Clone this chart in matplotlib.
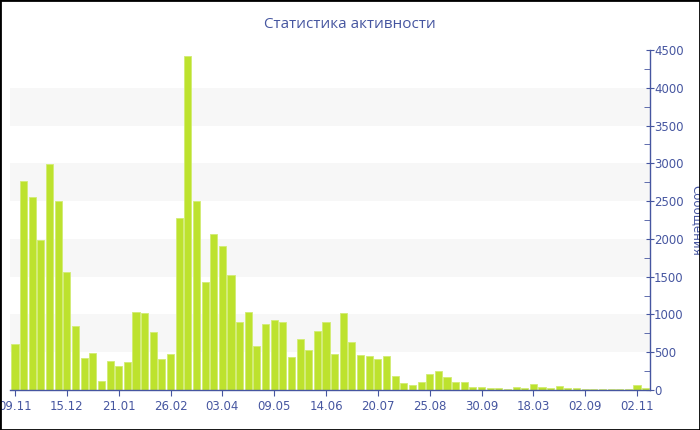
import matplotlib.pyplot as plt
import numpy as np
from matplotlib.patches import Rectangle
from matplotlib.ticker import MultipleLocator

# Сообщения по неделям
soobscheniya = [
    610, 2760, 2555, 1980, 2990, 2500, 1560, 850, 430, 485,
    125, 380, 320, 375, 1035, 1020, 765, 410, 480, 2270,
    4420, 2495, 1435, 2065, 1900, 1520, 895, 1035, 580, 870,
    925, 905, 435, 670, 530, 775, 900, 480, 1015, 635,
    460, 455, 410, 455, 190, 90, 70, 105, 210, 250,
    175, 110, 105, 38, 40, 26, 26, 18, 35, 31,
    84, 40, 26, 53, 26, 22, 13, 13, 13, 18,
    13, 18, 66, 22,
]
podpisi_pos = [0, 6, 12, 18, 24, 30, 36, 42, 48, 54, 60, 66, 72]
podpisi = ["09.11", "15.12", "21.01", "26.02", "03.04", "09.05", "14.06",
           "20.07", "25.08", "30.09", "18.03", "02.09", "02.11"]

SINIY = "#4656a0"
ZELENY = "#bde22e"


def main() -> None:
    fig = plt.figure(figsize=(7, 4.3), dpi=100)
    ax = fig.add_axes([10 / 700, 1 - 390 / 430, 640 / 700, 340 / 430])

    x = np.arange(len(soobscheniya))
    ax.bar(x, soobscheniya, width=0.82, color=ZELENY, edgecolor="#d2ec74",
           linewidth=0.6, zorder=2)

    # полосы фона
    for niz in range(500, 4500, 1000):
        ax.axhspan(niz, niz + 500, color="#f7f7f7", zorder=0, lw=0)

    ax.set_xlim(-0.58, 73.5)
    ax.set_ylim(0, 4500)

    ax.yaxis.tick_right()
    ax.yaxis.set_label_position("right")
    ax.yaxis.set_major_locator(MultipleLocator(500))
    ax.yaxis.set_minor_locator(MultipleLocator(250))
    ax.set_xticks(podpisi_pos)
    ax.set_xticklabels(podpisi)

    ax.tick_params(axis="y", which="major", direction="inout", length=6,
                   color=SINIY, labelcolor=SINIY, labelsize=8.5, pad=0)
    ax.tick_params(axis="y", which="minor", direction="in", length=4, color=SINIY)
    ax.tick_params(axis="x", direction="out", length=4, color=SINIY,
                   labelcolor=SINIY, labelsize=8.5, pad=3)

    for storona in ("top", "left"):
        ax.spines[storona].set_visible(False)
    for storona in ("bottom", "right"):
        ax.spines[storona].set_color(SINIY)
        ax.spines[storona].set_linewidth(1.0)
    ax.set_facecolor("white")

    ax.set_ylabel("Сообщения", rotation=270, color=SINIY, fontsize=8.5, labelpad=14)
    fig.text(0.5, 1 - 25 / 430, "Статистика активности", ha="center", va="center",
             color=SINIY, fontsize=11, family=["Open Sans", "DejaVu Sans"])

    fig.patches.append(Rectangle((0, 0), 1, 1, transform=fig.transFigure,
                                 fill=False, edgecolor="black", linewidth=2))

    fig.savefig("out.png", dpi=100)
    plt.close(fig)


if __name__ == "__main__":
    main()
